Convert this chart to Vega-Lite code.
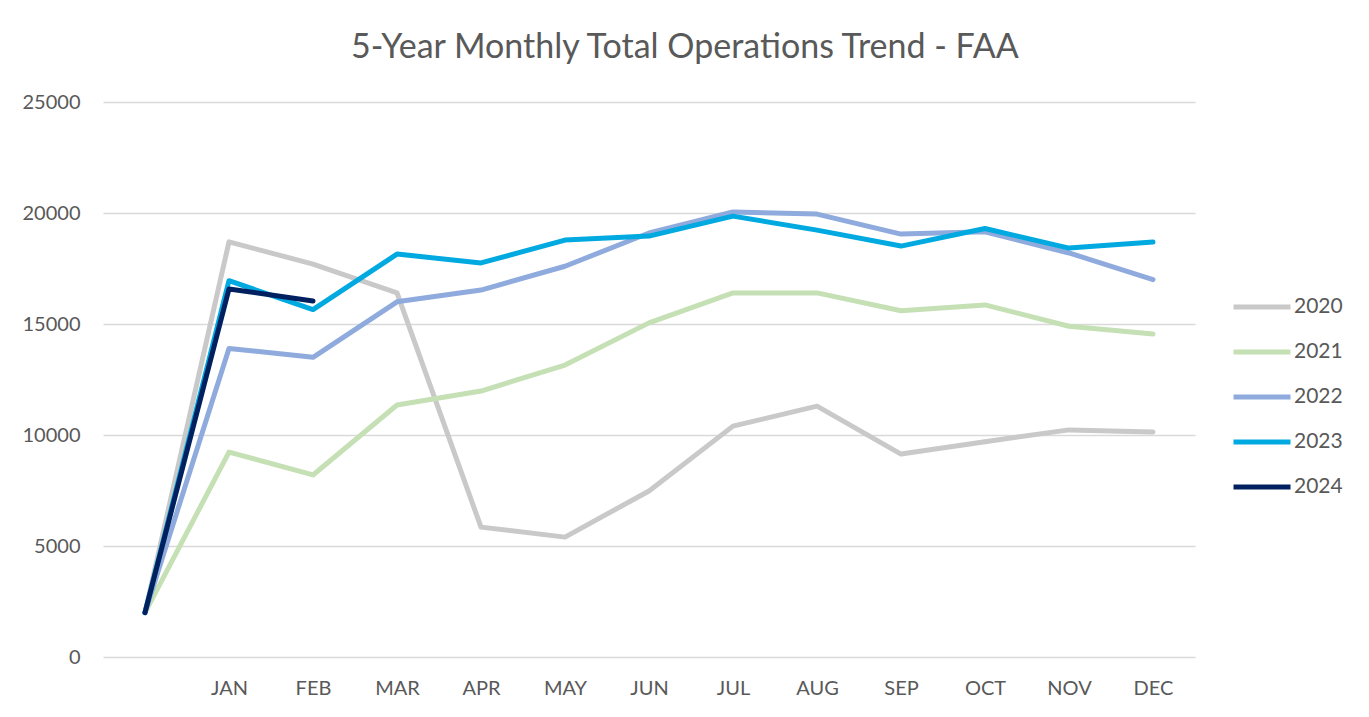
{
  "$schema": "https://vega.github.io/schema/vega-lite/v6.json",
  "width": 1092,
  "height": 555,
  "autosize": {"type": "none"},
  "padding": {"left": 103, "top": 102, "right": 174, "bottom": 60},
  "background": "white",
  "title": {
    "text": "5-Year Monthly Total Operations Trend - FAA",
    "font": "Lato",
    "fontSize": 34,
    "fontWeight": "normal",
    "color": "#595959",
    "anchor": "middle",
    "dx": 36,
    "offset": 27
  },
  "data": {
    "values": [
      {"month": " ", "year": "2020", "value": 2000},
      {"month": "JAN", "year": "2020", "value": 18700},
      {"month": "FEB", "year": "2020", "value": 17700},
      {"month": "MAR", "year": "2020", "value": 16400},
      {"month": "APR", "year": "2020", "value": 5850},
      {"month": "MAY", "year": "2020", "value": 5400},
      {"month": "JUN", "year": "2020", "value": 7480},
      {"month": "JUL", "year": "2020", "value": 10400},
      {"month": "AUG", "year": "2020", "value": 11300},
      {"month": "SEP", "year": "2020", "value": 9140},
      {"month": "OCT", "year": "2020", "value": 9700},
      {"month": "NOV", "year": "2020", "value": 10230},
      {"month": "DEC", "year": "2020", "value": 10140},
      {"month": " ", "year": "2021", "value": 2000},
      {"month": "JAN", "year": "2021", "value": 9230},
      {"month": "FEB", "year": "2021", "value": 8200},
      {"month": "MAR", "year": "2021", "value": 11350},
      {"month": "APR", "year": "2021", "value": 11980},
      {"month": "MAY", "year": "2021", "value": 13150},
      {"month": "JUN", "year": "2021", "value": 15050},
      {"month": "JUL", "year": "2021", "value": 16400},
      {"month": "AUG", "year": "2021", "value": 16400},
      {"month": "SEP", "year": "2021", "value": 15600},
      {"month": "OCT", "year": "2021", "value": 15860},
      {"month": "NOV", "year": "2021", "value": 14900},
      {"month": "DEC", "year": "2021", "value": 14550},
      {"month": " ", "year": "2022", "value": 2000},
      {"month": "JAN", "year": "2022", "value": 13900},
      {"month": "FEB", "year": "2022", "value": 13500},
      {"month": "MAR", "year": "2022", "value": 16000},
      {"month": "APR", "year": "2022", "value": 16530},
      {"month": "MAY", "year": "2022", "value": 17600},
      {"month": "JUN", "year": "2022", "value": 19100},
      {"month": "JUL", "year": "2022", "value": 20050},
      {"month": "AUG", "year": "2022", "value": 19950},
      {"month": "SEP", "year": "2022", "value": 19050},
      {"month": "OCT", "year": "2022", "value": 19150},
      {"month": "NOV", "year": "2022", "value": 18200},
      {"month": "DEC", "year": "2022", "value": 17000},
      {"month": " ", "year": "2023", "value": 2000},
      {"month": "JAN", "year": "2023", "value": 16950},
      {"month": "FEB", "year": "2023", "value": 15650},
      {"month": "MAR", "year": "2023", "value": 18150},
      {"month": "APR", "year": "2023", "value": 17750},
      {"month": "MAY", "year": "2023", "value": 18780},
      {"month": "JUN", "year": "2023", "value": 18960},
      {"month": "JUL", "year": "2023", "value": 19860},
      {"month": "AUG", "year": "2023", "value": 19230},
      {"month": "SEP", "year": "2023", "value": 18510},
      {"month": "OCT", "year": "2023", "value": 19300},
      {"month": "NOV", "year": "2023", "value": 18420},
      {"month": "DEC", "year": "2023", "value": 18690},
      {"month": " ", "year": "2024", "value": 2000},
      {"month": "JAN", "year": "2024", "value": 16580},
      {"month": "FEB", "year": "2024", "value": 16040}
    ]
  },
  "mark": {"type": "line", "strokeWidth": 5, "strokeCap": "round", "strokeJoin": "round"},
  "encoding": {
    "x": {
      "field": "month",
      "type": "nominal",
      "sort": [" ", "JAN", "FEB", "MAR", "APR", "MAY", "JUN", "JUL", "AUG", "SEP", "OCT", "NOV", "DEC"],
      "scale": {"type": "point", "padding": 0.5},
      "axis": {
        "title": null,
        "labelAngle": 0,
        "domain": false,
        "ticks": false,
        "grid": false,
        "labelPadding": 21,
        "labelFont": "Lato",
        "labelFontSize": 20,
        "labelColor": "#595959"
      }
    },
    "y": {
      "field": "value",
      "type": "quantitative",
      "scale": {"domain": [0, 25000], "nice": false},
      "axis": {
        "title": null,
        "values": [0, 5000, 10000, 15000, 20000, 25000],
        "format": "d",
        "domain": false,
        "ticks": false,
        "grid": true,
        "gridColor": "#D9D9D9",
        "gridWidth": 1.5,
        "labelPadding": 23,
        "labelFont": "Lato",
        "labelFontSize": 20,
        "labelColor": "#595959"
      }
    },
    "color": {
      "field": "year",
      "type": "nominal",
      "scale": {
        "domain": ["2020", "2021", "2022", "2023", "2024"],
        "range": ["#C9C9C9", "#C5E0B4", "#8FAADC", "#00A9E0", "#002060"]
      },
      "legend": {
        "title": null,
        "orient": "none",
        "legendX": 1128,
        "legendY": 174,
        "symbolType": "stroke",
        "symbolSize": 3249,
        "symbolStrokeWidth": 5,
        "labelFont": "Lato",
        "labelFontSize": 21,
        "labelColor": "#595959",
        "labelOffset": 1,
        "rowPadding": 4
      }
    }
  },
  "config": {
    "view": {"stroke": null}
  }
}
